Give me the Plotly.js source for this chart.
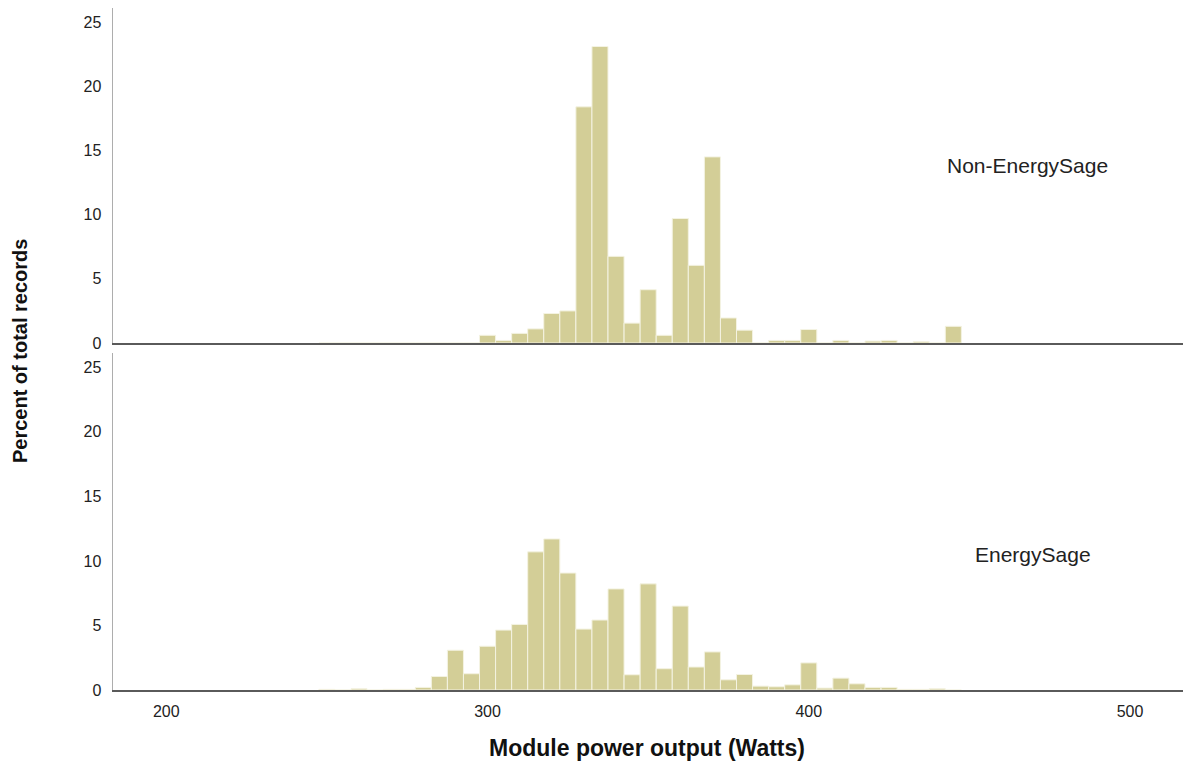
<!DOCTYPE html>
<html>
<head>
<meta charset="utf-8">
<script src="https://cdn.plot.ly/plotly-3.0.1.min.js"></script>
<style>
  html, body { margin: 0; padding: 0; background: #ffffff; }
  #chart { width: 1183px; height: 768px; }
</style>
</head>
<body>
<div id="chart"></div>
<script>
// Bin centres (Watts), bin width 5
const binCenters = [250, 255, 260, 265, 270, 275, 280, 285, 290, 295,
                    300, 305, 310, 315, 320, 325, 330, 335, 340, 345,
                    350, 355, 360, 365, 370, 375, 380, 385, 390, 395,
                    400, 405, 410, 415, 420, 425, 430, 435, 440, 445];

// Percent of total records - Non-EnergySage (top panel)
const nonEnergySage = [0, 0, 0, 0, 0, 0, 0, 0, 0, 0,
                       0.6, 0.2, 0.75, 1.1, 2.3, 2.5, 18.4, 23.1, 6.75, 1.55,
                       4.15, 0.6, 9.7, 6.05, 14.5, 1.95, 1.0, 0, 0.2, 0.2,
                       1.05, 0, 0.2, 0, 0.15, 0.2, 0, 0.1, 0, 1.3];

// Percent of total records - EnergySage (bottom panel)
const energySage = [0.05, 0, 0.1, 0, 0.05, 0.05, 0.2, 1.05, 3.08, 1.26,
                    3.39, 4.64, 5.08, 10.7, 11.7, 9.06, 4.72, 5.42, 7.83, 1.18,
                    8.22, 1.65, 6.5, 1.78, 2.95, 0.79, 1.2, 0.3, 0.25, 0.4,
                    2.1, 0.15, 0.92, 0.48, 0.2, 0.2, 0.05, 0.05, 0.1, 0];

const panelLabels = ["Non-EnergySage", "EnergySage"];
const xTickValues = [200, 300, 400, 500];
const yTickValues = [0, 5, 10, 15, 20, 25];
const xTitle = "Module power output (Watts)";
const yTitle = "Percent of total records";

const FONT = "Liberation Sans, Arial, sans-serif";
const barFill = "rgb(211,206,151)";
const barEdge = "rgb(244,243,226)";

const traces = [
  {
    type: "bar", x: binCenters, y: energySage, width: 5,
    xaxis: "x", yaxis: "y",
    marker: { color: barFill, line: { color: barEdge, width: 1 } },
    hoverinfo: "x+y", showlegend: false
  },
  {
    type: "bar", x: binCenters, y: nonEnergySage, width: 5,
    xaxis: "x2", yaxis: "y2",
    marker: { color: barFill, line: { color: barEdge, width: 1 } },
    hoverinfo: "x+y", showlegend: false
  }
];

const xRange = [183.4, 516.5];
const yRange = [0, 26.1];

const commonY = {
  range: yRange, tickvals: yTickValues, ticks: "", showgrid: false, zeroline: false,
  showline: true, linecolor: "#adadad", linewidth: 1.5,
  tickfont: { family: FONT, size: 16, color: "#222" }, ticklabelstandoff: 7,
  fixedrange: true
};

const layout = {
  width: 1183, height: 768,
  margin: { l: 113, r: 0, t: 8, b: 78 },
  paper_bgcolor: "#ffffff", plot_bgcolor: "#ffffff",
  bargap: 0,
  font: { family: FONT, color: "#222" },
  xaxis: {
    domain: [0, 1], anchor: "y", range: xRange, tickvals: xTickValues,
    ticks: "", showgrid: false, zeroline: false,
    showline: true, linecolor: "#5a5a5a", linewidth: 2,
    tickfont: { family: FONT, size: 16, color: "#222" }, ticklabelstandoff: 6
  },
  xaxis2: {
    domain: [0, 1], anchor: "y2", range: xRange, tickvals: xTickValues,
    showticklabels: false, ticks: "", showgrid: false, zeroline: false,
    showline: true, linecolor: "#5a5a5a", linewidth: 2
  },
  yaxis: Object.assign({}, commonY, { domain: [0, 0.4941], anchor: "x" }),
  yaxis2: Object.assign({}, commonY, { domain: [0.5088, 1], anchor: "x2" }),
  annotations: [
    {
      text: panelLabels[0], xref: "x2", yref: "y2", x: 442.3, y: 13.85,
      xanchor: "left", yanchor: "middle", showarrow: false,
      font: { family: FONT, size: 21, color: "#222" }
    },
    {
      text: panelLabels[1], xref: "x", yref: "y", x: 451.2, y: 10.48,
      xanchor: "left", yanchor: "middle", showarrow: false,
      font: { family: FONT, size: 21, color: "#222" }
    },
    {
      text: "<b>" + xTitle + "</b>", xref: "paper", yref: "paper", x: 0.4995, y: -0.085,
      xanchor: "center", yanchor: "middle", showarrow: false,
      font: { family: FONT, size: 23, color: "#111" }
    },
    {
      text: "<b>" + yTitle + "</b>", xref: "paper", yref: "paper", x: -0.0869, y: 0.497,
      xanchor: "center", yanchor: "middle", showarrow: false, textangle: -90,
      font: { family: FONT, size: 20, color: "#111" }
    }
  ]
};

Plotly.newPlot("chart", traces, layout, { displayModeBar: false, staticPlot: true });
</script>
</body>
</html>
